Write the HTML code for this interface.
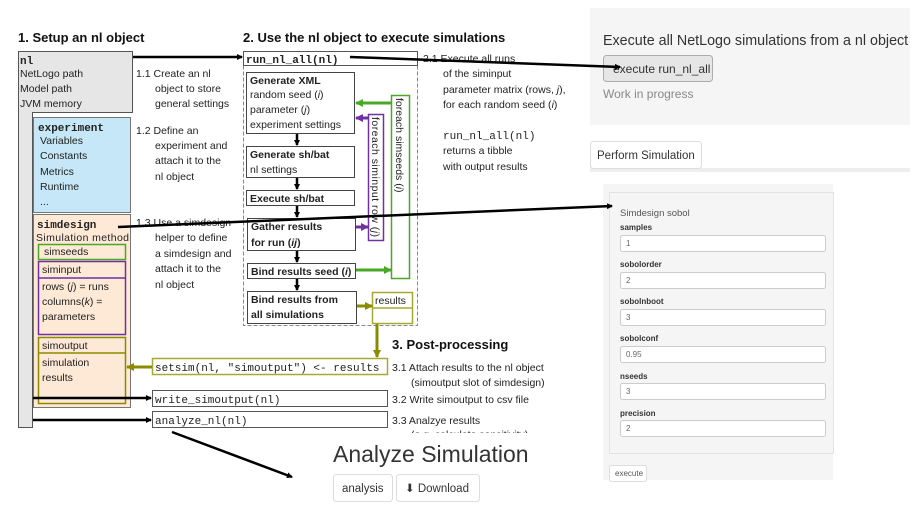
<!DOCTYPE html>
<html><head><meta charset="utf-8"><style>
html,body{margin:0;padding:0;background:#fff;width:918px;height:508px;overflow:hidden}
svg{position:absolute;left:0;top:0}
.s{font-family:"Liberation Sans",sans-serif;font-size:10.5px;fill:#222}
.m{font-family:"Liberation Mono",monospace;font-size:11px;fill:#222}
.b{font-weight:bold}
.h{font-family:"Liberation Sans",sans-serif;font-size:13px;font-weight:bold;fill:#111}
.w{font-family:"Liberation Sans",sans-serif;fill:#333}
.lab{font-family:"Liberation Sans",sans-serif;font-size:8px;font-weight:bold;fill:#333}
.val{font-family:"Liberation Sans",sans-serif;font-size:8px;fill:#666}
</style></head><body>
<svg width="918" height="508" viewBox="0 0 918 508">
<defs>
<marker id="ak" markerWidth="6" markerHeight="6" refX="5" refY="3" orient="auto" markerUnits="userSpaceOnUse"><path d="M0,0 L6,3 L0,6z" fill="#000"/></marker>
<marker id="ag" markerWidth="8" markerHeight="8" refX="7" refY="4" orient="auto" markerUnits="userSpaceOnUse"><path d="M0,0 L8,4 L0,8z" fill="#4aa829"/></marker>
<marker id="ap" markerWidth="8" markerHeight="8" refX="7" refY="4" orient="auto" markerUnits="userSpaceOnUse"><path d="M0,0 L8,4 L0,8z" fill="#7030a0"/></marker>
<marker id="ao" markerWidth="8" markerHeight="8" refX="7" refY="4" orient="auto" markerUnits="userSpaceOnUse"><path d="M0,0 L8,4 L0,8z" fill="#8b8b00"/></marker>
</defs>

<!-- right panels -->
<rect x="590" y="8" width="320" height="117" fill="#f5f5f5"/>
<text x="603" y="45" class="w" font-size="14.3">Execute all NetLogo simulations from a nl object</text>
<rect x="603.5" y="55.5" width="109" height="26" rx="3" fill="#e6e6e6" stroke="#adadad"/>
<text x="613" y="73" class="w" font-size="12">execute run_nl_all</text>
<text x="603" y="98" class="w" font-size="12" style="fill:#888">Work in progress</text>
<rect x="590" y="168" width="320" height="4" fill="#eee"/>
<rect x="590.5" y="141.5" width="111" height="27" rx="3" fill="#fff" stroke="#ddd"/>
<text x="597" y="159" class="w" font-size="11.5">Perform Simulation</text>

<rect x="603" y="184" width="230" height="296" fill="#f5f5f5"/>
<rect x="609.5" y="192.5" width="224" height="261" fill="#f5f5f5" stroke="#e3e3e3"/>
<text x="620" y="216" class="w" font-size="9.5" style="fill:#555">Simdesign sobol</text>
<g>
<text x="620" y="230" class="lab">samples</text><rect x="620.5" y="235.5" width="205" height="16" rx="2" fill="#fff" stroke="#ccc"/><text x="626" y="246" class="val">1</text>
<text x="620" y="267" class="lab">sobolorder</text><rect x="620.5" y="272.5" width="205" height="16" rx="2" fill="#fff" stroke="#ccc"/><text x="626" y="283" class="val">2</text>
<text x="620" y="304" class="lab">sobolnboot</text><rect x="620.5" y="309.5" width="205" height="16" rx="2" fill="#fff" stroke="#ccc"/><text x="626" y="320" class="val">3</text>
<text x="620" y="341" class="lab">sobolconf</text><rect x="620.5" y="346.5" width="205" height="16" rx="2" fill="#fff" stroke="#ccc"/><text x="626" y="357" class="val">0.95</text>
<text x="620" y="379" class="lab">nseeds</text><rect x="620.5" y="383.5" width="205" height="16" rx="2" fill="#fff" stroke="#ccc"/><text x="626" y="394" class="val">3</text>
<text x="620" y="416" class="lab">precision</text><rect x="620.5" y="420.5" width="205" height="16" rx="2" fill="#fff" stroke="#ccc"/><text x="626" y="431" class="val">2</text>
</g>
<rect x="609.5" y="465.5" width="37" height="16" rx="2" fill="#fff" stroke="#ddd"/>
<text x="615" y="476" class="val" style="fill:#555">execute</text>

<!-- bottom -->
<text x="333" y="462" class="w" font-size="23">Analyze Simulation</text>
<rect x="333.5" y="474.5" width="59" height="27" rx="3" fill="#fff" stroke="#ddd"/>
<text x="342" y="492" class="w" font-size="11.5">analysis</text>
<rect x="396.5" y="474.5" width="83" height="27" rx="3" fill="#fff" stroke="#ddd"/>
<text x="405" y="492" class="w" font-size="11.5">⬇ Download</text>

<!-- section 1 -->
<text x="18" y="42" class="h">1. Setup an nl object</text>
<path d="M18.5,51.5 H132.5 V112.5 H32.5 V427.5 H18.5 Z" fill="#e6e6e6" stroke="#555"/>
<text x="20" y="64" class="m b" font-size="14">nl</text>
<text x="20" y="77" class="s">NetLogo path</text>
<text x="20" y="92" class="s">Model path</text>
<text x="20" y="107" class="s">JVM memory</text>
<rect x="33.5" y="117.5" width="97" height="95" fill="#c5e7f7" stroke="#777"/>
<text x="38" y="131" class="m b" font-size="14">experiment</text>
<text x="40" y="144" class="s">Variables</text>
<text x="40" y="159" class="s">Constants</text>
<text x="40" y="175" class="s">Metrics</text>
<text x="40" y="190" class="s">Runtime</text>
<text x="40" y="205" class="s">...</text>
<rect x="33.5" y="214.5" width="97" height="193" fill="#fde9d5" stroke="#777"/>
<text x="37" y="228" class="m b" font-size="14">simdesign</text>
<text x="36" y="241" class="s" textLength="93">Simulation method</text>
<rect x="38.5" y="244.5" width="87" height="15" fill="none" stroke="#4aa829" stroke-width="1.5"/>
<text x="44" y="255" class="s">simseeds</text>
<rect x="38.5" y="261.5" width="87" height="73" fill="none" stroke="#7030a0" stroke-width="1.5"/>
<line x1="38" y1="278" x2="126" y2="278" stroke="#7030a0" stroke-width="1.5"/>
<text x="42" y="273" class="s">siminput</text>
<text x="42" y="290" class="s">rows (<tspan font-style="italic">j</tspan>) = runs</text>
<text x="42" y="305" class="s">columns(<tspan font-style="italic">k</tspan>) =</text>
<text x="42" y="320" class="s">parameters</text>
<rect x="38.5" y="337.5" width="87" height="66" fill="none" stroke="#8b8b00" stroke-width="1.5"/>
<line x1="38" y1="353" x2="126" y2="353" stroke="#8b8b00" stroke-width="1.5"/>
<text x="42" y="349" class="s">simoutput</text>
<text x="42" y="366" class="s">simulation</text>
<text x="42" y="381" class="s">results</text>

<text x="136" y="77" class="s">1.1 Create an nl</text>
<text x="155" y="92" class="s">object to store</text>
<text x="155" y="107" class="s">general settings</text>
<text x="136" y="134" class="s">1.2 Define an</text>
<text x="155" y="149" class="s">experiment and</text>
<text x="155" y="164" class="s">attach it to the</text>
<text x="155" y="180" class="s">nl object</text>
<text x="136" y="226" class="s">1.3 Use a simdesign</text>
<text x="155" y="241" class="s">helper to define</text>
<text x="155" y="257" class="s">a simdesign and</text>
<text x="155" y="272" class="s">attach it to the</text>
<text x="155" y="288" class="s">nl object</text>

<!-- section 2 -->
<text x="243" y="42" class="h">2. Use the nl object to execute simulations</text>
<rect x="243.5" y="65.5" width="174" height="260" fill="#fff" stroke="#888" stroke-dasharray="4,2"/>
<rect x="243.5" y="51.5" width="174" height="14" fill="#fff" stroke="#555"/>
<text x="246" y="63" class="m b" font-size="14">run_nl_all(nl)</text>
<g stroke="#444" fill="#fff">
<rect x="246.5" y="72.5" width="108" height="61"/>
<rect x="246.5" y="146.5" width="108" height="31"/>
<rect x="246.5" y="190.5" width="108" height="15"/>
<rect x="247.5" y="218.5" width="108" height="32"/>
<rect x="247.5" y="263.5" width="108" height="15"/>
<rect x="247.5" y="291.5" width="109" height="32"/>
</g>
<text x="250" y="84" class="s b">Generate XML</text>
<text x="250" y="98" class="s">random seed (<tspan font-style="italic">i</tspan>)</text>
<text x="250" y="113" class="s">parameter (<tspan font-style="italic">j</tspan>)</text>
<text x="250" y="128" class="s">experiment settings</text>
<text x="250" y="158" class="s b">Generate sh/bat</text>
<text x="250" y="173" class="s">nl settings</text>
<text x="250" y="202" class="s b">Execute sh/bat</text>
<text x="251" y="230" class="s b">Gather results</text>
<text x="251" y="246" class="s b">for run (<tspan font-style="italic">ij</tspan>)</text>
<text x="251" y="275" class="s b">Bind results seed (<tspan font-style="italic">i</tspan>)</text>
<text x="251" y="303" class="s b">Bind results from</text>
<text x="251" y="318" class="s b">all simulations</text>
<g stroke="#000" stroke-width="2.5" marker-end="url(#ak)">
<line x1="297" y1="134" x2="297" y2="145"/>
<line x1="297" y1="178" x2="297" y2="189"/>
<line x1="297" y1="206" x2="297" y2="217"/>
<line x1="297" y1="251" x2="297" y2="262"/>
<line x1="297" y1="279" x2="297" y2="290"/>
</g>
<rect x="368.5" y="114.5" width="15" height="126" fill="#fff" stroke="#7030a0" stroke-width="1.5"/>
<text transform="translate(372,117) rotate(90)" class="s" textLength="120">foreach siminput row (<tspan font-style="italic">j</tspan>)</text>
<rect x="391.5" y="95.5" width="18" height="183" fill="#fff" stroke="#4aa829" stroke-width="1.5"/>
<text transform="translate(396,98) rotate(90)" class="s">foreach simseeds (<tspan font-style="italic">i</tspan>)</text>
<line x1="391" y1="103" x2="356" y2="103" stroke="#4aa829" stroke-width="3" marker-end="url(#ag)"/>
<line x1="368" y1="118" x2="356" y2="118" stroke="#7030a0" stroke-width="3" marker-end="url(#ap)"/>
<line x1="356" y1="227" x2="368" y2="227" stroke="#7030a0" stroke-width="3" marker-end="url(#ap)"/>
<line x1="356" y1="270" x2="391" y2="270" stroke="#4aa829" stroke-width="3" marker-end="url(#ag)"/>
<rect x="372.5" y="292.5" width="40" height="31" fill="#fff" stroke="#a8a832" stroke-width="1.5"/>
<line x1="372" y1="308" x2="413" y2="308" stroke="#a8a832" stroke-width="1.5"/>
<text x="375" y="304" class="s">results</text>
<line x1="357" y1="306" x2="372" y2="306" stroke="#8b8b00" stroke-width="3" marker-end="url(#ao)"/>
<line x1="377" y1="324" x2="377" y2="357" stroke="#8b8b00" stroke-width="3" marker-end="url(#ao)"/>

<text x="423" y="62" class="s">2.1 Execute all runs</text>
<text x="443" y="77" class="s">of the siminput</text>
<text x="443" y="93" class="s">parameter matrix (rows, <tspan font-style="italic">j</tspan>),</text>
<text x="443" y="108" class="s">for each random seed (<tspan font-style="italic">i</tspan>)</text>
<text x="443" y="139" class="m">run_nl_all(nl)</text>
<text x="443" y="154" class="s">returns a tibble</text>
<text x="443" y="170" class="s">with output results</text>

<!-- section 3 -->
<text x="392" y="349" class="h" font-size="14">3. Post-processing</text>
<rect x="152.5" y="358.5" width="235" height="16" fill="#fff" stroke="#a8a832" stroke-width="1.5"/>
<text x="155" y="371" class="m">setsim(nl, "simoutput") &lt;- results</text>
<line x1="152" y1="367" x2="127" y2="367" stroke="#8b8b00" stroke-width="3" marker-end="url(#ao)"/>
<text x="392" y="371" class="s">3.1 Attach results to the nl object</text>
<text x="411" y="386" class="s">(simoutput slot of simdesign)</text>
<rect x="152.5" y="390.5" width="235" height="16" fill="#fff" stroke="#555"/>
<text x="155" y="403" class="m">write_simoutput(nl)</text>
<text x="392" y="403" class="s">3.2 Write simoutput to csv file</text>
<rect x="152.5" y="411.5" width="235" height="16" fill="#fff" stroke="#555"/>
<text x="155" y="424" class="m">analyze_nl(nl)</text>
<text x="392" y="424" class="s">3.3 Analzye results</text>
<text x="411" y="438" class="s">(e.g. calculate sensitivity)</text>
<rect x="405" y="433" width="170" height="10" fill="#fff"/>

<g stroke="#000" stroke-width="2.5" marker-end="url(#ak)">
<line x1="133" y1="57" x2="242" y2="57"/>
<line x1="33" y1="398" x2="151" y2="398"/>
<line x1="33" y1="420" x2="151" y2="420"/>
<line x1="350" y1="57" x2="620" y2="67"/>
<line x1="118" y1="227" x2="612" y2="206"/>
<line x1="172" y1="432" x2="292" y2="477"/>
</g>
</svg>
</body></html>
